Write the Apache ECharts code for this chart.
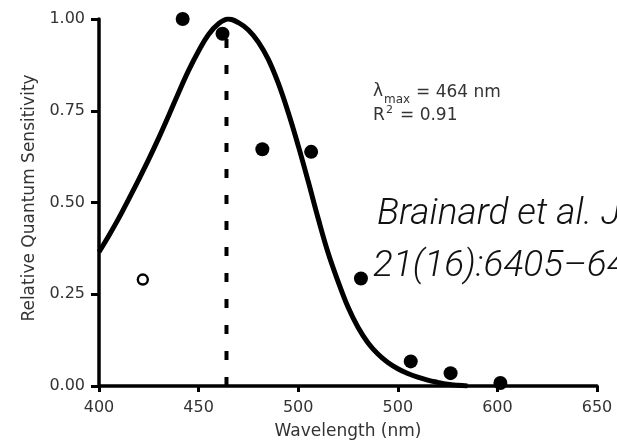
<!DOCTYPE html>
<html>
<head>
<meta charset="utf-8">
<script src="https://cdn.jsdelivr.net/npm/echarts@6/dist/echarts.min.js"></script>
<style>
html,body{margin:0;padding:0;background:#fff;}
#c{width:617px;height:445px;}
</style>
</head>
<body>
<div id="c"></div>
<script>
// Fitted template curve
var curveWavelengths = [400,405,410,415,420,425,430,435,440,445,450,455,460,465,470,475,480,485,490,495,500,505,510,515,520,525,530,535,540,545,550,555,560,565,570,575,580,585];
var curveValues = [0.365,0.41,0.458,0.51,0.563,0.618,0.676,0.737,0.80,0.86,0.913,0.958,0.987,1.00,0.99,0.97,0.937,0.89,0.825,0.745,0.655,0.558,0.457,0.363,0.285,0.215,0.16,0.118,0.087,0.064,0.047,0.034,0.024,0.016,0.01,0.005,0.002,0.0];
// Measured points (filled)
var filledWavelengths = [442,462,482,506.5,531.5,556.5,576.5,601.5];
var filledValues = [1.00,0.96,0.645,0.638,0.293,0.067,0.035,0.008];
// Excluded point (open)
var openWavelengths = [422];
var openValues = [0.29];
// Lambda max marker
var lambdaMax = 464;
var lambdaMaxTop = 0.97;
// Tick labels as printed
var xTickValues = [400,450,500,550,600,650];
var xTickLabels = ['400','450','500','500','600','650'];
var yTickValues = [0,0.25,0.5,0.75,1];
var yTickLabels = ['0.00','0.25','0.50','0.75','1.00'];

var chart = echarts.init(document.getElementById('c'), null, {renderer:'canvas'});
function zip(a,b){return a.map(function(v,i){return [v,b[i]];});}
var font = '"DejaVu Sans", Verdana, sans-serif';
var txt = '#333';
var option = {
  animation:false,
  grid:{left:99,right:20,top:19,bottom:57,containLabel:false},
  xAxis:{
    type:'value',min:400,max:650,interval:50,
    axisLine:{show:true,onZero:false,lineStyle:{color:'#000',width:3.5}},
    axisTick:{show:true,length:6,lineStyle:{color:'#000',width:3}},
    splitLine:{show:false},
    axisLabel:{margin:14,color:txt,fontFamily:font,fontSize:16,
      formatter:function(v){var i=xTickValues.indexOf(v);return i>=0?xTickLabels[i]:'';}},
    name:'Wavelength (nm)',nameLocation:'middle',nameGap:37,
    nameTextStyle:{color:txt,fontFamily:font,fontSize:17}
  },
  yAxis:{
    type:'value',min:0,max:1,interval:0.25,
    axisLine:{show:true,onZero:false,lineStyle:{color:'#000',width:3.5}},
    axisTick:{show:true,length:8,lineStyle:{color:'#000',width:3}},
    splitLine:{show:false},
    axisLabel:{margin:14,color:txt,fontFamily:font,fontSize:16,
      formatter:function(v){var i=yTickValues.indexOf(v);return i>=0?yTickLabels[i]:'';}}
  },
  series:[
    {type:'line',data:zip(curveWavelengths,curveValues),smooth:0.4,symbol:'none',
      lineStyle:{color:'#000',width:5},z:3},
    {type:'line',data:[[lambdaMax,0],[lambdaMax,lambdaMaxTop]],symbol:'none',
      lineStyle:{color:'#000',width:4,type:[9,17]},z:2},
    {type:'scatter',data:zip(filledWavelengths,filledValues),symbol:'circle',symbolSize:14,
      itemStyle:{color:'#000',opacity:1},z:4},
    {type:'scatter',data:zip(openWavelengths,openValues),symbol:'circle',symbolSize:10,
      itemStyle:{color:'#fff',borderColor:'#000',borderWidth:2.4,opacity:1},z:4}
  ],
  graphic:[
    {type:'text',x:30,y:198,rotation:Math.PI/2,
      style:{text:'Relative Quantum Sensitivity',font:'17px '+font,fill:txt,align:'center',verticalAlign:'middle'}},
    {type:'text',x:373,y:92,style:{text:'λ',font:'17px '+font,fill:txt,verticalAlign:'middle'}},
    {type:'text',x:384,y:100,style:{text:'max',font:'12px '+font,fill:txt,verticalAlign:'middle'}},
    {type:'text',x:416,y:93,style:{text:'= 464 nm',font:'17px '+font,fill:txt,verticalAlign:'middle'}},
    {type:'text',x:373,y:116,style:{text:'R',font:'17px '+font,fill:txt,verticalAlign:'middle'}},
    {type:'text',x:386,y:110,style:{text:'2',font:'11px '+font,fill:txt,verticalAlign:'middle'}},
    {type:'text',x:400,y:116,style:{text:'= 0.91',font:'17px '+font,fill:txt,verticalAlign:'middle'}},
    {type:'text',left:377,top:196,style:{text:'Brainard et al. J',font:'italic 300 37px Roboto, "Open Sans", sans-serif',fill:'#111'}},
    {type:'text',left:373,top:248,style:{text:'21(16):6405–64',font:'italic 300 37px Roboto, "Open Sans", sans-serif',fill:'#111'}}
  ]
};
chart.setOption(option);
</script>
</body>
</html>
